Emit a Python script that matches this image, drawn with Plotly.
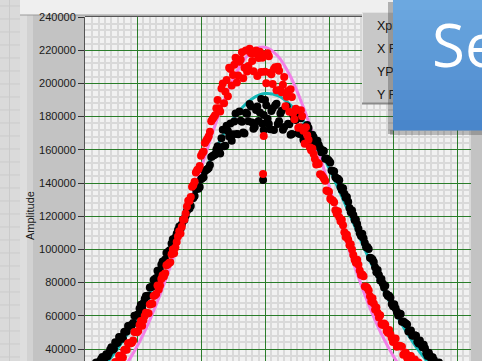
import plotly.graph_objects as go

# ---- data -------------------------------------------------------------
# sample positions along the profile (two interleaved acquisitions)
positions_a = list(range(60, 342, 2))
positions_b = list(range(61, 340, 2))

# measured X profile amplitudes (black)
x_profile_a = [
    25700, 25100, 27700, 27200, 31900, 31200, 34000, 32800, 36900, 37400,
    41000, 40200, 43500, 47200, 46100, 50200, 50500, 54000, 54400, 60000,
    60200, 64400, 64600, 70100, 72000, 77000, 77500, 82100, 87100, 87300,
    92700, 93900, 98300, 99600, 106100, 107200, 111700, 112200, 118000, 120200,
    125500, 126200, 131000, 136200, 136600, 142200, 143400, 147800, 149100, 155600,
    156700, 160200, 159700, 166900, 162200, 174500, 168000, 165500, 177000, 169500,
    183000, 176900, 169800, 181700, 187600, 176500, 173800, 186100, 182400, 175700,
    190000, 178700, 172400, 185100, 186800, 175500, 181800, 172100, 185400, 175700,
    169000, 181000, 178000, 170000, 179000, 166000, 171600, 173200, 162800, 167600,
    164200, 162900, 158500, 159300, 154700, 153400, 147500, 146900, 142700, 141600,
    135800, 133500, 131600, 124900, 123400, 117700, 115300, 109800, 109500, 103800,
    101400, 95000, 93900, 89200, 87600, 81300, 79500, 78100, 71900, 70900,
    65700, 64500, 60200, 61100, 56600, 55400, 50600, 51100, 48000, 48000,
    43300, 42700, 42500, 37500, 37700, 33700, 33400, 30000, 31800, 28200,
    27900,
]
x_profile_b = [
    24200, 28200, 27600, 30300, 29100, 32600, 35200, 34800, 35700, 39500,
    39500, 44000, 43900, 47100, 46400, 50500, 53800, 54100, 55700, 60200,
    61000, 66600, 67600, 71900, 72300, 77400, 81600, 82800, 85300, 90700,
    92100, 97900, 99100, 103600, 104200, 109500, 113800, 115100, 117700, 123200,
    124700, 130700, 132100, 136800, 137600, 142900, 147100, 148300, 150800, 156200,
    157200, 162100, 157800, 172100, 162400, 171300, 175800, 169300, 181800, 169300,
    177500, 170400, 182300, 177200, 186100, 172700, 184000, 177300, 190600, 180900,
    186900, 175600, 183300, 172000, 187700, 177200, 183500, 173800, 186100, 175400,
    169500, 178500, 180500, 169500, 173500, 165300, 174900, 165500, 169100, 164700,
    165400, 160900, 159700, 154600, 154100, 152300, 147200, 143400, 142500, 137600,
    136800, 131100, 128700, 122400, 120700, 118000, 112400, 108100, 106700, 101300,
    100300, 94700, 92400, 86200, 84600, 82200, 77000, 73100, 72100, 67100,
    66900, 62500, 61400, 56400, 56000, 54800, 50800, 48100, 48300, 44500,
    45100, 41100, 40400, 35800, 35800, 35100, 31600, 29400, 30100, 26800,
]

# measured Y profile amplitudes (red)
y_profile_a = [
    14400, 13200, 15900, 14800, 20000, 18600, 21700, 19900, 24500, 24800,
    28800, 27800, 31600, 36000, 34600, 39400, 39500, 43500, 43700, 50200,
    50100, 54500, 54000, 59900, 61500, 66800, 67200, 72400, 78200, 78200,
    84400, 85700, 90900, 92300, 100000, 101100, 107800, 109600, 117800, 121700,
    129300, 131600, 138700, 146400, 148300, 156400, 159000, 165500, 168200, 177200,
    179600, 185100, 185000, 197000, 188000, 202000, 209400, 198800, 211200, 200600,
    213000, 218700, 209400, 207100, 220800, 213500, 218000, 204500, 219000, 215500,
    207000, 218200, 206400, 199600, 209800, 210000, 196100, 199200, 186300, 195400,
    196500, 182100, 184700, 173300, 183900, 171500, 173600, 166100, 159800, 157400,
    151200, 151400, 145000, 142700, 135500, 134700, 129700, 128400, 121500, 119400,
    117900, 110300, 108900, 102500, 100000, 93700, 93800, 87300, 84900, 77600,
    76700, 71800, 70600, 63800, 61800, 60400, 54400, 54600, 49800, 48900,
    44200, 46400, 42000, 41700, 36500, 37700, 34900, 35800, 31100, 31200,
    31900, 26900, 28100, 24300, 24400, 20700, 23600, 19900, 20300, 15800,
    17700,
]
y_profile_b = [
    12400, 16700, 15500, 18300, 16400, 20200, 23000, 22200, 22900, 27200,
    26900, 32200, 32000, 35800, 34900, 39700, 43400, 43500, 45100, 50300,
    50800, 56800, 57300, 61800, 61600, 67200, 72000, 73200, 75900, 82200,
    83700, 90500, 91800, 97100, 97700, 104500, 110900, 113700, 118000, 125900,
    129100, 137700, 140800, 147900, 150300, 157900, 164100, 166700, 170800, 178500,
    180800, 190000, 183000, 200000, 195000, 192200, 208600, 205000, 215400, 204800,
    214400, 203100, 219800, 210500, 218200, 207300, 219800, 215300, 206800, 217300,
    200100, 216300, 205500, 208700, 195900, 207600, 194700, 203800, 191900, 182900,
    191800, 178400, 184000, 173600, 180200, 163600, 168700, 161600, 160800, 154500,
    152200, 145300, 143900, 141300, 135100, 130500, 129500, 123600, 123000, 116900,
    114600, 107500, 105900, 103100, 96700, 91900, 90700, 84600, 83800, 77500,
    75300, 68600, 67400, 65000, 59000, 55100, 55400, 50800, 51500, 46700,
    46200, 41300, 41900, 41300, 37100, 34600, 35800, 32100, 33700, 29800,
    29900, 25400, 26400, 26200, 22400, 20300, 21900, 18600, 20600, 17100,
]

# isolated readings near the centre
outlier_pos = [199, 198.5]
x_profile_outliers = [172000, 141800]
y_profile_outliers = [168300, 145400]

# fitted curves
x_fit_pos = list(range(60, 361, 10))
x_fit_amp = [
    19200, 26300, 35200, 46000, 58800, 73400, 89700, 107000, 124800, 142200,
    158400, 172500, 183500, 190800, 193900, 192600, 186900, 177300, 164400, 148900,
    131900, 114100, 96500, 79800, 64400, 50900, 39200, 29600, 21800, 15700,
    11100,
]
y_fit_pos = list(range(60, 341, 10))
y_fit_amp = [
    8000, 12700, 19500, 28900, 41500, 57400, 76700, 99000, 123400, 148500,
    172500, 193600, 209800, 219500, 221800, 216500, 204000, 185600, 163100, 138400,
    113400, 89800, 68600, 50600, 36100, 24800, 16500, 10600, 6600,
]

legend_labels = ["Xpr", "X F", "YPr", "Y F"]
y_title = "Amplitude"
banner_text = "Se"

# ---- geometry helpers (pixel -> paper) ---------------------------------
W, H = 482, 361
ML, MT, MR = 85, 17, 11
PW, PH = W - ML - MR, H - MT


def px(x):
    return (x - ML) / PW


def py(y):
    return 1 - (y - MT) / PH


fig = go.Figure()

fig.add_trace(go.Scatter(x=x_fit_pos, y=x_fit_amp, mode="lines",
                         line=dict(color="#13b8b8", width=3, shape="spline"),
                         hoverinfo="skip"))
fig.add_trace(go.Scatter(x=y_fit_pos, y=y_fit_amp, mode="lines",
                         line=dict(color="#f27fe6", width=3, shape="spline"),
                         hoverinfo="skip"))
fig.add_trace(go.Scatter(x=positions_a + positions_b + outlier_pos,
                         y=x_profile_a + x_profile_b + x_profile_outliers,
                         mode="markers",
                         marker=dict(color="#000000", size=8, line=dict(width=0))))
fig.add_trace(go.Scatter(x=positions_a + positions_b + outlier_pos,
                         y=y_profile_a + y_profile_b + y_profile_outliers,
                         mode="markers",
                         marker=dict(color="#ff0000", size=8, line=dict(width=0))))

shapes = []


def rect(x0, y0, x1, y1, fill, layer="below"):
    shapes.append(dict(type="rect", xref="paper", yref="paper",
                       x0=px(x0), x1=px(x1), y0=py(y1), y1=py(y0),
                       fillcolor=fill, layer=layer, line=dict(width=0)))


def hline(x0, x1, y, color, width=1, layer="below"):
    shapes.append(dict(type="line", xref="paper", yref="paper",
                       x0=px(x0), x1=px(x1), y0=py(y), y1=py(y),
                       line=dict(color=color, width=width), layer=layer))


def vline(x, y0, y1, color, width=1, layer="below"):
    shapes.append(dict(type="line", xref="paper", yref="paper",
                       x0=px(x), x1=px(x), y0=py(y0), y1=py(y1),
                       line=dict(color=color, width=width), layer=layer))


# window background with its faint grid on the far left
rect(0, 0, 20, H, "#dadada")
for gy in range(6, H, 13):
    hline(0, 20, gy, "#cbcbcb")
vline(9.5, 0, H, "#cbcbcb")
# bevel strip and panel
rect(20, 15, 27, H, "#dedede")
rect(27, 15, 33, H, "#d2d2d2")
# top strip above the panel
rect(20, 0, W + 2, 15, "#efefef")
hline(20, W + 2, 15, "#9a9a9a")
# plot frame top edge
hline(ML, ML + PW, MT - 0.5, "#555555", layer="above")

# legend panel
rect(362, 12, 400, 104, "#c8c8c8", layer="above")
vline(362.5, 12, 104, "#e6e6e6", layer="above")
hline(362, 400, 12.5, "#e2e2e2", layer="above")
hline(362, 400, 103.5, "#8a8a8a", width=2, layer="above")
for i, lab in enumerate(legend_labels):
    cy = 24 + i * 23
    shapes.append(dict(type="rect", xref="paper", yref="paper",
                       x0=px(371), x1=px(430), y0=py(cy + 9), y1=py(cy - 9),
                       line=dict(width=0), fillcolor="rgba(0,0,0,0)", layer="above",
                       label=dict(text=lab, textposition="middle left", padding=3,
                                  font=dict(family="Liberation Sans", size=12.5,
                                            color="#111111"))))

# blue banner with a soft shadow
rect(388, 2, 393, 134, "rgba(60,60,60,0.35)", layer="above")
rect(390, 130, W + 2, 135, "rgba(60,60,60,0.30)", layer="above")
top_c, bot_c = (108, 168, 224), (73, 134, 203)
n = 13
for k in range(n):
    t = k / (n - 1)
    c = tuple(round(top_c[j] + (bot_c[j] - top_c[j]) * t) for j in range(3))
    rect(393, k * 10, W + 2, k * 10 + 10.5, "rgb(%d,%d,%d)" % c, layer="above")

annotations = [
    dict(text=y_title, xref="paper", yref="paper", x=px(30), y=py(216),
         textangle=-90, showarrow=False, xanchor="center", yanchor="middle",
         font=dict(family="Liberation Sans", size=11, color="#1a1a1a")),
    dict(text=banner_text, xref="paper", yref="paper", x=px(430), y=py(44),
         showarrow=False, xanchor="left", yanchor="middle",
         font=dict(family="Open Sans", size=60, color="#ffffff")),
]

major_green = "#2a7d2a"
minor_grey = "#d9d9d9"

fig.update_layout(
    width=W, height=H,
    margin=dict(l=ML, r=MR, t=MT, b=0, pad=0),
    paper_bgcolor="#c3c3c3",
    plot_bgcolor="#f1f1f1",
    showlegend=False,
    shapes=shapes,
    annotations=annotations,
    xaxis=dict(range=[200 + (ML - 265) * 50 / 64, 200 + (ML + PW - 265) * 50 / 64],
               showticklabels=False, ticks="", zeroline=False, showline=False,
               tick0=0, dtick=50, showgrid=True, gridcolor=major_green, gridwidth=1.3,
               minor=dict(dtick=5, showgrid=True, gridcolor=minor_grey, gridwidth=2)),
    yaxis=dict(range=[240000 - (H - MT) * 20000 / 33.2, 240000],
               tick0=0, dtick=20000, tickformat="d",
               ticks="outside", ticklen=6, tickcolor="#333333", tickwidth=1,
               tickfont=dict(family="Liberation Sans", size=11, color="#1a1a1a"),
               showline=True, linecolor="#555555", linewidth=1, zeroline=False,
               showgrid=True, gridcolor=major_green, gridwidth=1.3,
               minor=dict(dtick=4000, showgrid=True, gridcolor=minor_grey, gridwidth=2)),
)

fig.write_html("out.html")
